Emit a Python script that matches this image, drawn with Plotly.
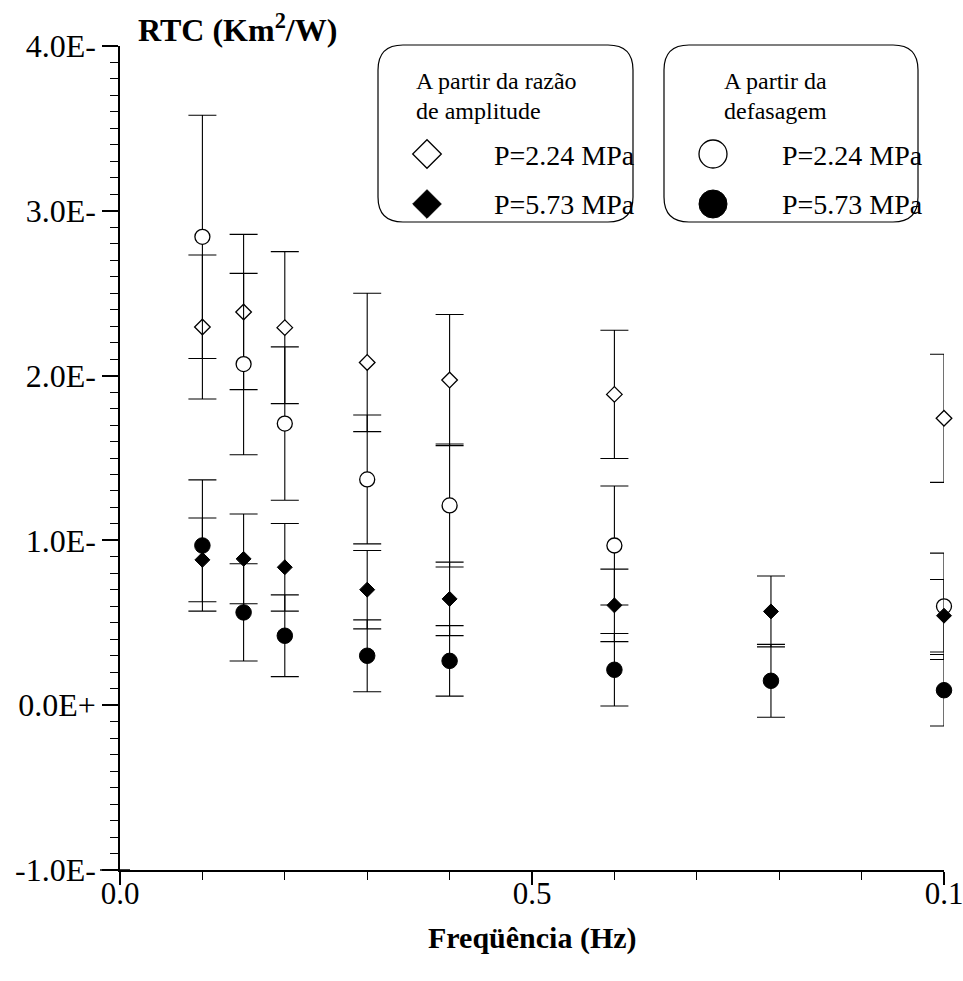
import plotly.graph_objects as go

# ---------------- data ----------------
freq_open = [0.1, 0.15, 0.2, 0.3, 0.4, 0.6, 1.0]
freq_fill = [0.1, 0.15, 0.2, 0.3, 0.4, 0.6, 0.79, 1.0]

amp_224 = [2.295, 2.386, 2.291, 2.080, 1.973, 1.886, 1.741]
amp_224_err = [0.437, 0.471, 0.461, 0.420, 0.398, 0.389, 0.389]

def_224 = [2.842, 2.070, 1.709, 1.370, 1.212, 0.969, 0.600]
def_224_err = [0.738, 0.550, 0.465, 0.391, 0.373, 0.361, 0.323]

amp_573 = [0.882, 0.888, 0.837, 0.701, 0.645, 0.606, 0.569, 0.543]
amp_573_err = [0.254, 0.272, 0.266, 0.238, 0.223, 0.220, 0.215, 0.220]

def_573 = [0.969, 0.563, 0.4215, 0.300, 0.269, 0.215, 0.148, 0.091]
def_573_err = [0.398, 0.295, 0.248, 0.218, 0.214, 0.220, 0.221, 0.217]

x_tickvals = [0.0, 0.5, 1.0]
x_ticktext = ["0.0", "0.5", "0.1"]
y_tickvals = [-1, 0, 1, 2, 3, 4]
y_ticktext = ["-1.0E-", "0.0E+", "1.0E-", "2.0E-", "3.0E-", "4.0E-"]

legend_head_1 = ["A partir da razão", "de amplitude"]
legend_head_2 = ["A partir da", "defasagem"]
legend_labels = ["P=2.24 MPa", "P=5.73 MPa"]

# ---------------- layout geometry ----------------
W, H = 963, 981
L, R, T, B = 120, 19, 46, 111
PW, PH = W - L - R, H - T - B
FONT = "Liberation Serif"


def paper(px, py):
    return (px - L) / PW, (H - B - py) / PH


def rrect(x0, y0, x1, y1, r):
    pts = [
        ("M", [(x0 + r, y0)]), ("L", [(x1 - r, y0)]), ("Q", [(x1, y0), (x1, y0 + r)]),
        ("L", [(x1, y1 - r)]), ("Q", [(x1, y1), (x1 - r, y1)]),
        ("L", [(x0 + r, y1)]), ("Q", [(x0, y1), (x0, y1 - r)]),
        ("L", [(x0, y0 + r)]), ("Q", [(x0, y0), (x0 + r, y0)]),
    ]
    s = ""
    for cmd, ps in pts:
        s += cmd + " " + " ".join("%.5f,%.5f" % paper(*p) for p in ps) + " "
    return s + "Z"


def err(arr):
    return dict(type="data", array=arr, visible=True, color="black",
                thickness=1.1, width=14)


fig = go.Figure()

fig.add_trace(go.Scatter(
    x=freq_open, y=amp_224, mode="markers", error_y=err(amp_224_err),
    marker=dict(symbol="diamond", size=12, color="white",
                line=dict(color="black", width=1.3)), cliponaxis=False))
fig.add_trace(go.Scatter(
    x=freq_open, y=def_224, mode="markers", error_y=err(def_224_err),
    marker=dict(symbol="circle", size=15, color="white",
                line=dict(color="black", width=1.3)), cliponaxis=False))
fig.add_trace(go.Scatter(
    x=freq_fill, y=amp_573, mode="markers", error_y=err(amp_573_err),
    marker=dict(symbol="diamond", size=11.5, color="black",
                line=dict(color="black", width=1)), cliponaxis=False))
fig.add_trace(go.Scatter(
    x=freq_fill, y=def_573, mode="markers", error_y=err(def_573_err),
    marker=dict(symbol="circle", size=15.5, color="black",
                line=dict(color="black", width=1)), cliponaxis=False))

# legend symbols on an overlay axis covering the plot area
lx1, ly1 = paper(427, 154)
lx2, ly2 = paper(427, 204)
cx1, cy1 = paper(713, 154)
cx2, cy2 = paper(713, 204)
fig.add_trace(go.Scatter(x=[lx1], y=[ly1], xaxis="x2", yaxis="y2", mode="markers",
                         marker=dict(symbol="diamond", size=22, color="white",
                                     line=dict(color="black", width=1.3)),
                         cliponaxis=False))
fig.add_trace(go.Scatter(x=[lx2], y=[ly2], xaxis="x2", yaxis="y2", mode="markers",
                         marker=dict(symbol="diamond", size=22, color="black",
                                     line=dict(color="black", width=1)),
                         cliponaxis=False))
fig.add_trace(go.Scatter(x=[cx1], y=[cy1], xaxis="x2", yaxis="y2", mode="markers",
                         marker=dict(symbol="circle", size=28, color="white",
                                     line=dict(color="black", width=1.3)),
                         cliponaxis=False))
fig.add_trace(go.Scatter(x=[cx2], y=[cy2], xaxis="x2", yaxis="y2", mode="markers",
                         marker=dict(symbol="circle", size=28, color="black",
                                     line=dict(color="black", width=1)),
                         cliponaxis=False))

shapes = [
    dict(type="path", xref="paper", yref="paper", path=rrect(378, 45, 633, 222, 25),
         line=dict(color="black", width=1.2), fillcolor="rgba(0,0,0,0)", layer="below"),
    dict(type="path", xref="paper", yref="paper", path=rrect(664, 45, 918, 222, 25),
         line=dict(color="black", width=1.2), fillcolor="rgba(0,0,0,0)", layer="below"),
    # x-axis line extends a little left of the y axis, and y tick at -1 crosses
    dict(type="line", xref="paper", yref="paper", x0=paper(100, 0)[0], x1=0, y0=0, y1=0,
         line=dict(color="black", width=1.5)),
    dict(type="line", xref="paper", yref="paper", x0=0, x1=paper(130, 0)[0], y0=0, y1=0,
         line=dict(color="black", width=1.5)),
]

annotations = []


def text(px, py, s, size, bold=False, xanchor="left"):
    fx, fy = paper(px, py)
    annotations.append(dict(
        x=fx, y=fy, xref="paper", yref="paper", text=("<b>%s</b>" % s) if bold else s,
        showarrow=False, xanchor=xanchor, yanchor="middle",
        font=dict(family=FONT, size=size, color="black")))


text(136, 28, "RTC (Km<sup>2</sup>/W)", 32, bold=True)
text(532, 938, "Freqüência (Hz)", 30, bold=True, xanchor="center")
text(414, 81, legend_head_1[0], 24)
text(414, 111, legend_head_1[1], 24)
text(722, 81, legend_head_2[0], 24)
text(722, 111, legend_head_2[1], 24)
text(492, 155, legend_labels[0], 28)
text(492, 205, legend_labels[1], 28)
text(780, 155, legend_labels[0], 28)
text(780, 205, legend_labels[1], 28)

fig.update_layout(
    width=W, height=H,
    margin=dict(l=L, r=R, t=T, b=B, pad=0, autoexpand=False),
    plot_bgcolor="white", paper_bgcolor="white",
    showlegend=False,
    font=dict(family=FONT, size=30, color="black"),
    xaxis=dict(range=[0, 1], tickvals=x_tickvals, ticktext=x_ticktext,
               automargin=False, ticklabelstandoff=-18, ticklabeloverflow="allow",
               ticks="outside", ticklen=13, tickwidth=1.5, tickcolor="black",
               showline=True, linecolor="black", linewidth=1.5, showgrid=False,
               zeroline=False, tickfont=dict(family=FONT, size=31),
               minor=dict(dtick=0.1, ticks="outside", ticklen=8, tickwidth=1.2,
                          tickcolor="black", showgrid=False)),
    yaxis=dict(range=[-1, 4], tickvals=y_tickvals, ticktext=y_ticktext,
               automargin=False, ticklabeloverflow="allow",
               ticks="outside", ticklen=16, tickwidth=1.5, tickcolor="black",
               showline=True, linecolor="black", linewidth=1.5, showgrid=False,
               zeroline=False, tickfont=dict(family=FONT, size=32),
               minor=dict(dtick=0.1, ticks="outside", ticklen=8, tickwidth=1.2,
                          tickcolor="black", showgrid=False)),
    xaxis2=dict(range=[0, 1], domain=[0, 1], overlaying="x", anchor="y2", visible=False,
                automargin=False),
    yaxis2=dict(range=[0, 1], domain=[0, 1], overlaying="y", anchor="x2", visible=False,
                automargin=False),
    shapes=shapes,
    annotations=annotations,
)

fig.write_html("out.html", config={"responsive": False, "displayModeBar": False},
               post_script="document.body.style.margin='0';document.body.style.overflow='hidden';")
